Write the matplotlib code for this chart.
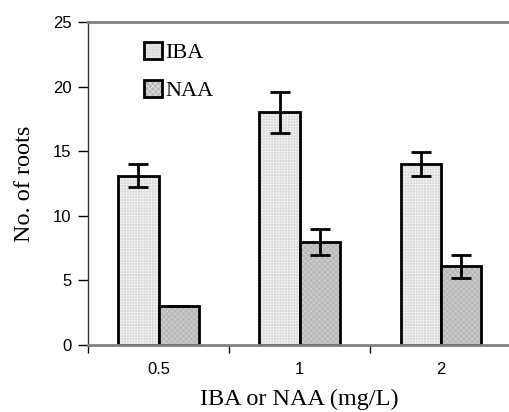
import numpy as np
import matplotlib.pyplot as plt

concs = ["0.5", "1", "2"]
iba = [13.1, 18.0, 14.0]
iba_err = [0.9, 1.6, 0.95]
naa = [3.0, 8.0, 6.1]
naa_err = [0.0, 1.0, 0.9]

plt.rcParams["hatch.linewidth"] = 0.5

fig = plt.figure(figsize=(5.1, 4.12), dpi=100)
ax = fig.add_axes([0.1725, 0.1626, 0.83, 0.784])

x = np.arange(len(concs))
w = 0.285
ekw = dict(elinewidth=2, capthick=2, capsize=7, ecolor="black")

b1 = ax.bar(x - w / 2, iba, w, yerr=iba_err, color="#d9d9d9", edgecolor="black",
            linewidth=2, hatch="++++++", error_kw=ekw, label="IBA")
b2 = ax.bar(x + w / 2, naa, w, yerr=naa_err, color="#b8b8b8", edgecolor="black",
            linewidth=2, hatch="xxxxxx", error_kw=ekw, label="NAA")
# lighter dot pattern inside the bars
for b in b1:
    b._hatch_color = (0.95, 0.95, 0.95, 1.0)
for b in b2:
    b._hatch_color = (0.82, 0.82, 0.82, 1.0)

ax.set_xlim(-0.5, 2.5)
ax.set_ylim(0, 25)
ax.set_yticks([0, 5, 10, 15, 20, 25])
ax.set_xticks([-0.5, 0.5, 1.5, 2.5])
ax.set_xticklabels([])
ax.set_xticks(x, minor=True)
ax.set_xticklabels(concs, minor=True)
ax.tick_params(axis="x", which="minor", length=0, pad=12)
ax.tick_params(axis="x", which="major", length=6, width=1, direction="out")
ax.tick_params(axis="y", length=7, width=1, direction="out", pad=5)
for lab in ax.get_xticklabels(minor=True) + ax.get_yticklabels():
    lab.set_family("Liberation Sans")
    lab.set_fontsize(12)

for s in ["top", "bottom"]:
    ax.spines[s].set_color("#808080")
    ax.spines[s].set_linewidth(2)
ax.spines["left"].set_color("#333333")
ax.spines["left"].set_linewidth(1)
ax.spines["right"].set_visible(False)

ax.set_ylabel("No. of roots", family="Liberation Serif", fontsize=17.5, labelpad=13)
ax.set_xlabel("IBA or NAA (mg/L)", family="Liberation Serif", fontsize=17.5, labelpad=9)

leg = ax.legend(loc="upper left", bbox_to_anchor=(0.085, 1.0), frameon=False,
                prop={"family": "Liberation Serif", "size": 16},
                handlelength=0.8, handleheight=0.8, handletextpad=0.15,
                labelspacing=0.75)
for h in leg.legend_handles:
    h._hatch_color = (0.9, 0.9, 0.9, 1.0)

fig.savefig("out.png", dpi=100)
